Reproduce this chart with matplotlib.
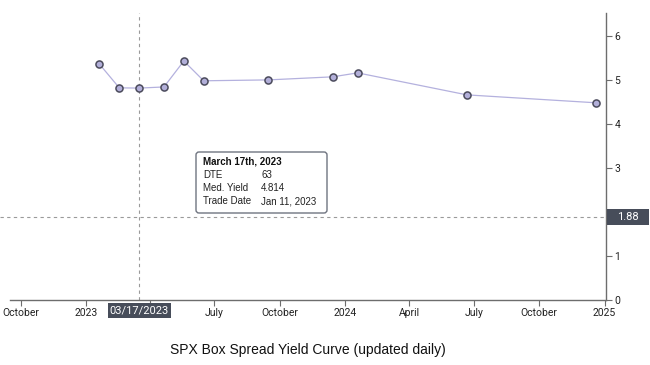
import matplotlib
matplotlib.use("Agg")
import matplotlib.pyplot as plt
import matplotlib.transforms as mtransforms
from matplotlib.patches import FancyBboxPatch, Rectangle
import datetime as dt

# ---- data ----
expirations = ["2023-01-20", "2023-02-17", "2023-03-17", "2023-04-21", "2023-05-19",
               "2023-06-16", "2023-09-15", "2023-12-15", "2024-01-19", "2024-06-21",
               "2024-12-20"]
med_yield = [5.36, 4.82, 4.814, 4.84, 5.43, 4.98, 5.00, 5.07, 5.16, 4.66, 4.48]
xtick_dates = ["2022-10-01", "2023-01-01", "2023-04-01", "2023-07-01", "2023-10-01",
               "2024-01-01", "2024-04-01", "2024-07-01", "2024-10-01", "2025-01-01"]
xtick_labels = ["October", "2023", "", "July", "October", "2024", "April",
                "July", "October", "2025"]
yticks = [0, 1, 2, 3, 4, 5, 6]
ytick_labels = ["0", "1", "", "3", "4", "5", "6"]
sel_date = "2023-03-17"
sel_dte = 63
sel_yield = 4.814
trade_date = "Jan 11, 2023"
cursor_y = 1.88
title = "SPX Box Spread Yield Curve (updated daily)"

W, H = 650, 365
fig = plt.figure(figsize=(W / 100, H / 100), dpi=100)
AX_L, AX_R, AX_T, AX_B = 10, 606, 13, 300
ax = fig.add_axes([AX_L / W, 1 - AX_B / H, (AX_R - AX_L) / W, (AX_B - AX_T) / H])
axw, axh = AX_R - AX_L, AX_B - AX_T

x = [dt.datetime.strptime(d, "%Y-%m-%d") for d in expirations]
ax.plot(x, med_yield, color="#b4b1de", lw=0.9, zorder=2)
ax.scatter(x, med_yield, s=26, facecolor="#b2afd9", edgecolor="#4b4b5c",
           linewidth=1.1, zorder=3)

ax.set_xlim(dt.datetime(2022, 9, 16), dt.datetime(2025, 1, 3))
ax.set_ylim(0, 6.52)

ax.set_xticks([dt.datetime.strptime(d, "%Y-%m-%d") for d in xtick_dates])
ax.set_xticklabels(xtick_labels)
ax.set_yticks(yticks)
ax.set_yticklabels(ytick_labels)
ax.yaxis.tick_right()

for s in ["top", "left"]:
    ax.spines[s].set_visible(False)
for s in ["bottom", "right"]:
    ax.spines[s].set_color("#6d6d6d")
    ax.spines[s].set_linewidth(1.0)

ax.tick_params(axis="both", colors="#6d6d6d", labelcolor="#222222",
               labelsize=7.5, length=4, width=0.8)
ax.tick_params(axis="x", pad=1.5)
ax.tick_params(axis="y", pad=2)
for lab in ax.get_xticklabels() + ax.get_yticklabels():
    lab.set_fontfamily(["Roboto", "DejaVu Sans"])

# crosshair
sd = dt.datetime.strptime(sel_date, "%Y-%m-%d")
ax.axvline(sd, color="#9a9a9a", lw=0.8, ls=(0, (3, 3)), zorder=1)
ax.plot([-AX_L / axw, 1.0], [cursor_y, cursor_y], transform=ax.get_yaxis_transform(),
        color="#9a9a9a", lw=0.8, ls=(0, (3, 3)), zorder=1, clip_on=False)

lab_font = ["Roboto", "DejaVu Sans"]
box_c = "#474d5a"
# date label on x axis
trans_x = mtransforms.blended_transform_factory(ax.transData, ax.transAxes)
sdn = matplotlib.dates.date2num(sd)
dpx = (matplotlib.dates.date2num(dt.datetime(2025, 1, 3)) -
       matplotlib.dates.date2num(dt.datetime(2022, 9, 16))) / axw
ax.add_patch(Rectangle((sdn - 31.5 * dpx, -18 / axh), 63 * dpx, 15 / axh,
                       transform=trans_x, fc=box_c, ec="none", zorder=9, clip_on=False))
ax.text(sd, -10.5 / axh, sd.strftime("%m/%d/%Y"), transform=trans_x,
        ha="center", va="center", color="white", fontsize=8,
        family=lab_font, zorder=10, clip_on=False)
# value label on y axis
trans_y = mtransforms.blended_transform_factory(ax.transAxes, ax.transData)
upx = 6.52 / axh
ax.add_patch(Rectangle((1.0 + 1 / axw, cursor_y - 8 * upx), 42 / axw, 16 * upx,
                       transform=trans_y, fc=box_c, ec="none", zorder=9, clip_on=False))
ax.text(1.0 + 22 / axw, cursor_y, f"{cursor_y:.2f}", transform=trans_y,
        ha="center", va="center", color="white", fontsize=8,
        family=lab_font, zorder=10, clip_on=False)

# tooltip
ov = fig.add_axes([0, 0, 1, 1], facecolor="none")
ov.set_xlim(0, W)
ov.set_ylim(H, 0)
ov.axis("off")
ov.add_patch(FancyBboxPatch((196, 152), 131, 61, boxstyle="round,pad=0,rounding_size=3",
                            fc="white", ec="#6f7480", lw=1.0))
ff = ["Liberation Sans", "DejaVu Sans"]
ov.text(203, 162, sd.strftime("%B ") + f"{sd.day}th, {sd.year}", fontsize=7,
        fontweight="bold", family=ff, va="center", color="#111111")
rows = [("DTE", str(sel_dte)), ("Med. Yield", f"{sel_yield:.3f}"), ("Trade Date", trade_date)]
for i, (k, v) in enumerate(rows):
    yy = 175 + i * 13
    ov.text(203, yy, k, fontsize=7, family=ff, va="center", color="#222222")
    ov.text(261, yy, v, fontsize=7, family=ff, va="center", color="#222222")

fig.text(308 / W, 1 - 350 / H, title, ha="center", va="center", fontsize=10,
         family=["Liberation Sans", "DejaVu Sans"], color="#111111")

fig.savefig("out.png", dpi=100, facecolor="white")
